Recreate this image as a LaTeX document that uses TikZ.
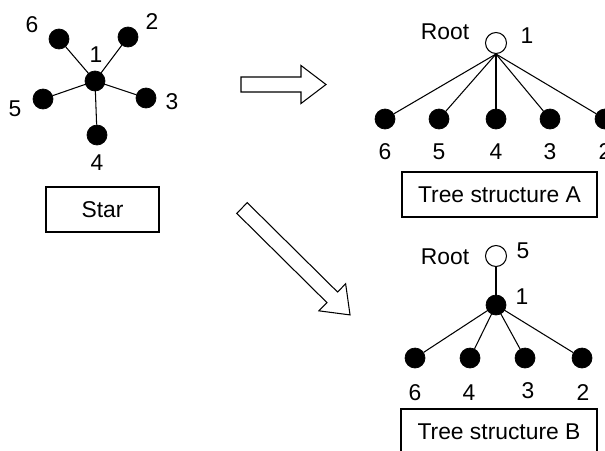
\documentclass[tikz,border=0pt]{standalone}
\usepackage{fontspec}
\setmainfont{Liberation Sans}
\begin{document}
\begin{tikzpicture}[x=0.02cm,y=-0.02cm,
  dot/.style={circle,fill=black,draw=black,minimum size=0.4cm,inner sep=0pt},
  rootdot/.style={circle,fill=white,draw=black,line width=0.6pt,minimum size=0.42cm,inner sep=0pt},
  lbl/.style={inner sep=0pt,font=\fontsize{13}{15}\selectfont},
  box/.style={draw=black,line width=0.6pt,inner sep=0pt,font=\fontsize{13}{15}\selectfont},
  edge/.style={draw=black,line width=0.6pt},
  blockarrow/.style={draw=black,fill=white,line width=0.6pt,line join=miter}]
\useasboundingbox (0,0) rectangle (605,450);
\clip (0,0) rectangle (605,450);
% ---- Star ----
\node[dot] (s1) at (95,81) {};
\node[dot] (s6) at (59,39) {};
\node[dot] (s2) at (128,37) {};
\node[dot] (s5) at (43,99) {};
\node[dot] (s3) at (146,98) {};
\node[dot] (s4) at (97,135) {};
\foreach \n in {s6,s2,s5,s3,s4} \draw[edge] (s1.center) -- (\n);
\node[lbl] (ls1) at (96,55) {1};
\node[lbl] (ls6) at (32,25) {6};
\node[lbl] (ls2) at (152,22) {2};
\node[lbl] (ls5) at (15,109) {5};
\node[lbl] (ls3) at (172,102) {3};
\node[lbl] (ls4) at (97,163) {4};
\node[box,minimum width=2.26cm,minimum height=0.9cm] (starbox) at (102.5,209.5) {Star};
% ---- Block arrows ----
\begin{scope}[shift={(241,84.5)}]
  \path[blockarrow] (0,7.5) -- (60,7.5) -- (60,19) -- (85,0) -- (60,-19) -- (60,-7.5) -- (0,-7.5) -- cycle;
\end{scope}
\begin{scope}[shift={(242,208)},rotate=-44.7]
  \path[blockarrow] (0,7.5) -- (127,7.5) -- (127,19) -- (152,0) -- (127,-19) -- (127,-7.5) -- (0,-7.5) -- cycle;
\end{scope}
% ---- Tree A ----
\node[rootdot] (ra) at (496,43) {};
\node[lbl] (lra) at (445,32) {Root};
\node[lbl] (lra1) at (527,36) {1};
\node[dot] (a6) at (385,119) {};
\node[dot] (a5) at (439,119) {};
\node[dot] (a4) at (496,119) {};
\node[dot] (a3) at (550,119) {};
\node[dot] (a2) at (605,119) {};
\foreach \n in {a6,a5,a4,a3,a2} \draw[edge] (ra.south) -- (\n);
\node[lbl] (la6) at (385,152) {6};
\node[lbl] (la5) at (439,152) {5};
\node[lbl] (la4) at (496,152) {4};
\node[lbl] (la3) at (550,152) {3};
\node[lbl] (la2) at (605,152) {2};
\node[box,minimum width=3.9cm,minimum height=0.9cm] (boxa) at (499.5,194.5) {Tree structure A};
% ---- Tree B ----
\node[rootdot] (rb) at (496,256) {};
\node[lbl] (lrb) at (445,257) {Root};
\node[lbl] (lrb5) at (523,251) {5};
\node[dot] (b1) at (496,305) {};
\node[lbl] (lb1) at (522,297) {1};
\draw[edge] (rb) -- (b1);
\node[dot] (b6) at (415,358) {};
\node[dot] (b4) at (470,358) {};
\node[dot] (b3) at (525,358) {};
\node[dot] (b2) at (582,358) {};
\foreach \n in {b6,b4,b3,b2} \draw[edge] (b1.center) -- (\n);
\node[lbl] (lb6) at (415,393) {6};
\node[lbl] (lb4) at (469,393) {4};
\node[lbl] (lb3) at (528,391) {3};
\node[lbl] (lb2) at (583,393) {2};
\node[box,minimum width=3.92cm,minimum height=0.92cm] (boxb) at (499,432) {Tree structure B};
\end{tikzpicture}
\end{document}
